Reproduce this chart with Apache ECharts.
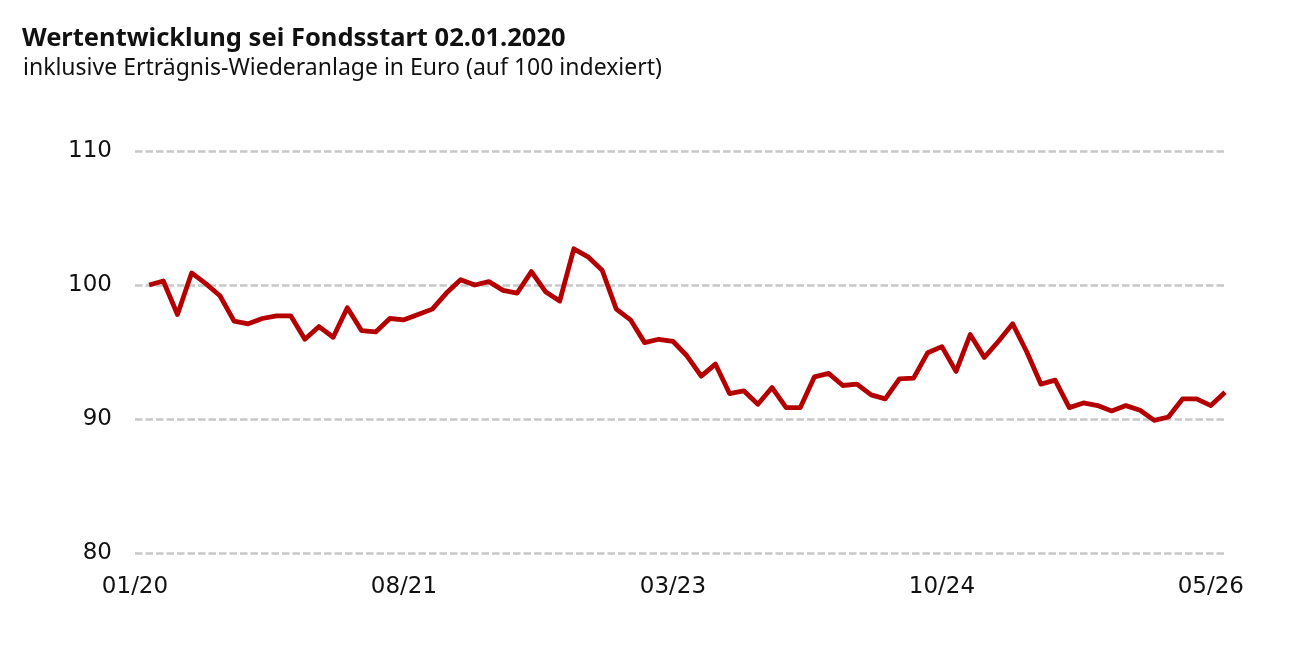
<!DOCTYPE html>
<html>
<head>
<meta charset="utf-8">
<script src="https://cdn.jsdelivr.net/npm/echarts@6/dist/echarts.min.js"></script>
<style>
html,body{margin:0;padding:0;background:#fff;}
#chart{width:1297px;height:646px;}
</style>
</head>
<body>
<div id="chart"></div>
<script>
// Monthly values (index 1..77, month 0 = 01/20)
const values = [
  100.0, 100.3, 97.8, 100.9, 100.1, 99.2, 97.3, 97.1, 97.5, 97.7,
  97.7, 95.95, 96.9, 96.1, 98.3, 96.6, 96.5, 97.5, 97.4, 97.8,
  98.2, 99.4, 100.4, 100.0, 100.25, 99.6, 99.4, 101.0, 99.5, 98.8,
  102.7, 102.1, 101.1, 98.2, 97.4, 95.7, 95.95, 95.8, 94.7, 93.2,
  94.1, 91.9, 92.1, 91.1, 92.35, 90.85, 90.85, 93.15, 93.4, 92.5,
  92.6, 91.8, 91.5, 93.0, 93.05, 94.95, 95.4, 93.55, 96.3, 94.6,
  95.8, 97.1, 95.0, 92.6, 92.9, 90.85, 91.2, 91.0, 90.6, 91.0,
  90.65, 89.9, 90.15, 91.5, 91.5, 91.0, 92.0
];
const xTickLabels = ['01/20', '08/21', '03/23', '10/24', '05/26'];
const xTickStep = 19;
const yTicks = [80, 90, 100, 110];

const titleText = 'Wertentwicklung sei Fondsstart 02.01.2020';
const subtitleText = 'inklusive Erträgnis-Wiederanlage in Euro (auf 100 indexiert)';

const seriesData = values.map((v, i) => [i + 1, v]);

const chart = echarts.init(document.getElementById('chart'));
const font = '"Noto Sans", sans-serif';
const tickFont = '"DejaVu Sans", sans-serif';
chart.setOption({
  animation: false,
  backgroundColor: '#ffffff',
  title: [
    { text: titleText, left: 17, top: 21,
      textStyle: { fontFamily: font, fontSize: 25.5, fontWeight: 'bold', color: '#111' } },
    { text: subtitleText, left: 18, top: 52,
      textStyle: { fontFamily: font, fontSize: 23, fontWeight: 'normal', color: '#111' } }
  ],
  grid: { left: 135, right: 72, top: 151, bottom: 93 },
  xAxis: {
    type: 'value',
    min: 0,
    max: values.length,
    interval: xTickStep,
    axisLine: { show: false },
    axisTick: { show: false },
    splitLine: { show: false },
    axisLabel: {
      showMaxLabel: false,
      margin: 23,
      fontFamily: tickFont, fontSize: 23, color: '#111',
      formatter: v => (v % xTickStep === 0 ? xTickLabels[v / xTickStep] : '')
    }
  },
  yAxis: {
    type: 'value',
    min: yTicks[0],
    max: yTicks[yTicks.length - 1],
    interval: 10,
    axisLine: { show: false },
    axisTick: { show: false },
    axisLabel: { margin: 23, fontFamily: tickFont, fontSize: 23, color: '#111' },
    splitLine: { lineStyle: { color: '#c8c8c8', width: 2.5, type: [7.5, 3] } }
  },
  series: [{
    type: 'line',
    data: seriesData,
    symbol: 'none',
    lineStyle: { color: '#b40000', width: 4.8, join: 'round' },
    z: 3
  }]
});
</script>
</body>
</html>
